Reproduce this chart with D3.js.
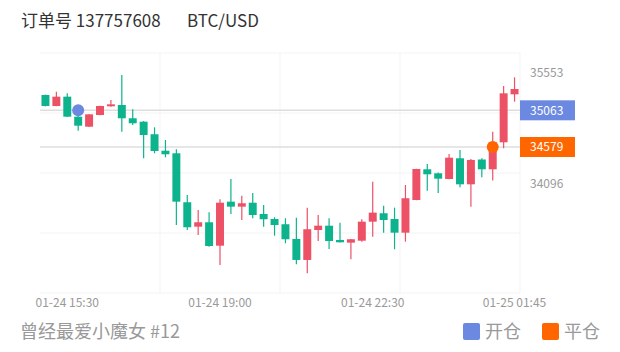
<!DOCTYPE html>
<html>
<head>
<meta charset="utf-8">
<script src="https://cdn.jsdelivr.net/npm/d3@7"></script>
<style>
    body { margin: 0; background: #fff; }
    text { font-family: "Noto Sans CJK SC", "Noto Sans", sans-serif; }
</style>
</head>
<body>
<div id="chart"></div>
<script>
// 15 minute candles, 01-24 15:00 .. 01-25 01:45
const times = ["15:00","15:15","15:30","15:45","16:00","16:15","16:30","16:45","17:00","17:15","17:30","17:45",
    "18:00","18:15","18:30","18:45","19:00","19:15","19:30","19:45","20:00","20:15","20:30","20:45",
    "21:00","21:15","21:30","21:45","22:00","22:15","22:30","22:45","23:00","23:15","23:30","23:45",
    "00:00","00:15","00:30","00:45","01:00","01:15","01:30","01:45"];

const open  = [35265,35120,35243,34979,34847,35001,35116,35133,34958,34913,34747,34530,34496,33850,33528,33586,33277,33858,33792,33844,33695,33629,
    33560,33366,33089,33484,33541,33352,33317,33343,33594,33705,33629,33449,33880,34285,34232,34157,34430,34087,34414,34285,34641,35274];
const high  = [35270,35309,35287,34988,35012,35122,35199,35529,35076,34922,34839,34671,34549,33946,33748,33718,33889,34157,33937,33972,33814,33652,
    33639,33647,33779,33682,33639,33581,33364,33626,34121,33805,33779,34078,34292,34355,34243,34487,34540,34420,34430,34781,35384,35498];
const low   = [35115,35118,34975,34794,34843,34998,35111,34781,34869,34430,34496,34443,33550,33484,33418,33264,33023,33695,33616,33639,33528,33409,
    33309,33032,32913,33339,33234,33320,33098,33330,33396,33449,33230,33330,33877,34003,33972,34155,34048,33792,34179,34137,34562,35177];
const close = [35120,35243,34979,34860,35010,35120,35142,34958,34892,34737,34526,34483,33858,33520,33586,33273,33844,33792,33837,33682,33626,33550,
    33362,33089,33494,33541,33339,33322,33362,33594,33713,33616,33449,33903,34289,34219,34161,34438,34087,34408,34285,34645,35287,35344];

const tickTimes  = ["15:30", "19:00", "22:30", "01:45"];
const tickLabels = ["01-24 15:30", "01-24 19:00", "01-24 22:30", "01-25 01:45"];
const priceTicks = [35553, 34096];

const openPrice = 35063, openTime = "15:45";
const closePrice = 34579, closeTime = "01:15";

const width = 620,
    height = 352,
    margin = ({top: 53, right: 100, bottom: 59, left: 40});

const up = "#ec5166", down = "#0db38d",
    blue = "#6b89e1", orange = "#ff6600",
    gridColor = "#f3f3f3", textColor = "#999";

const svg = d3.select("#chart")
    .append("svg")
    .attr("width", width)
    .attr("height", height);

const x = d3.scaleBand()
    .domain(times)
    .range([margin.left, width - margin.right])
    .paddingInner(0.27)
    .paddingOuter(0.135);

const y = d3.scaleLinear()
    .domain([32653, 35819])
    .range([height - margin.bottom, margin.top]);

// grid
const gx = d3.scaleLinear().domain([0, 4]).range([margin.left, width - margin.right]);
const gy = d3.scaleLinear().domain([0, 4]).range([margin.top, height - margin.bottom]);

svg.append("g")
    .selectAll("line")
    .data(d3.range(1, 5))
    .join("line")
    .attr("x1", d => gx(d)).attr("x2", d => gx(d))
    .attr("y1", margin.top).attr("y2", height - margin.bottom)
    .attr("stroke", gridColor);

svg.append("g")
    .selectAll("line")
    .data(d3.range(0, 5))
    .join("line")
    .attr("x1", margin.left).attr("x2", width - margin.right)
    .attr("y1", d => gy(d)).attr("y2", d => gy(d))
    .attr("stroke", gridColor);

// open / close price lines
svg.append("g")
    .selectAll("line")
    .data([openPrice, closePrice])
    .join("line")
    .attr("x1", margin.left).attr("x2", width - margin.right)
    .attr("y1", d => y(d)).attr("y2", d => y(d))
    .attr("stroke", "#dedede")
    .attr("stroke-width", 1.5);

// candles
const candle = svg.append("g")
    .selectAll("g")
    .data(times.map((t, i) => ({t, o: open[i], h: high[i], l: low[i], c: close[i]})))
    .join("g")
    .attr("fill", d => d.c >= d.o ? up : down)
    .attr("stroke", d => d.c >= d.o ? up : down);

candle.append("line")
    .attr("x1", d => x(d.t) + x.bandwidth() / 2)
    .attr("x2", d => x(d.t) + x.bandwidth() / 2)
    .attr("y1", d => y(d.h))
    .attr("y2", d => y(d.l))
    .attr("stroke-width", 1.2);

candle.append("rect")
    .attr("x", d => x(d.t))
    .attr("width", x.bandwidth())
    .attr("y", d => y(Math.max(d.o, d.c)))
    .attr("height", d => Math.max(1.5, Math.abs(y(d.o) - y(d.c))))
    .attr("stroke", "none");

// trade markers
svg.append("circle")
    .attr("cx", x(openTime) + x.bandwidth() / 2)
    .attr("cy", y(openPrice))
    .attr("r", 6)
    .attr("fill", blue);

svg.append("circle")
    .attr("cx", x(closeTime) + x.bandwidth() / 2)
    .attr("cy", y(closePrice))
    .attr("r", 6)
    .attr("fill", orange);

// right axis
const axisX = width - margin.right;

svg.append("g")
    .selectAll("text")
    .data(priceTicks)
    .join("text")
    .attr("x", axisX + 10)
    .attr("y", d => y(d))
    .attr("dy", "0.35em")
    .attr("fill", textColor)
    .attr("font-size", 12)
    .text(d => d);

const tag = svg.append("g")
    .selectAll("g")
    .data([[openPrice, blue], [closePrice, orange]])
    .join("g");

tag.append("rect")
    .attr("x", axisX)
    .attr("y", d => y(d[0]) - 10)
    .attr("width", 55)
    .attr("height", 20)
    .attr("fill", d => d[1]);

tag.append("text")
    .attr("x", axisX + 10)
    .attr("y", d => y(d[0]))
    .attr("dy", "0.35em")
    .attr("fill", "#fff")
    .attr("font-size", 12)
    .text(d => d[0]);

// time axis
svg.append("g")
    .selectAll("text")
    .data(tickTimes)
    .join("text")
    .attr("x", d => x(d) + x.bandwidth() / 2)
    .attr("y", height - margin.bottom + 5)
    .attr("dy", "0.71em")
    .attr("text-anchor", "middle")
    .attr("fill", textColor)
    .attr("font-size", 12)
    .text((d, i) => tickLabels[i]);

// header
svg.append("text")
    .attr("x", 21).attr("y", 27)
    .attr("fill", "#333")
    .attr("font-size", 17)
    .text("订单号 137757608");

svg.append("text")
    .attr("x", 187).attr("y", 27)
    .attr("fill", "#333")
    .attr("font-size", 17)
    .text("BTC/USD");

// footer
svg.append("text")
    .attr("x", 20).attr("y", 338)
    .attr("fill", textColor)
    .attr("font-size", 18)
    .text("曾经最爱小魔女 #12");

const legend = svg.append("g")
    .selectAll("g")
    .data([["开仓", blue, 463], ["平仓", orange, 542]])
    .join("g");

legend.append("rect")
    .attr("x", d => d[2]).attr("y", 323)
    .attr("width", 17).attr("height", 17)
    .attr("rx", 2)
    .attr("fill", d => d[1]);

legend.append("text")
    .attr("x", d => d[2] + 22).attr("y", 338)
    .attr("fill", textColor)
    .attr("font-size", 18)
    .text(d => d[0]);
</script>
</body>
</html>
